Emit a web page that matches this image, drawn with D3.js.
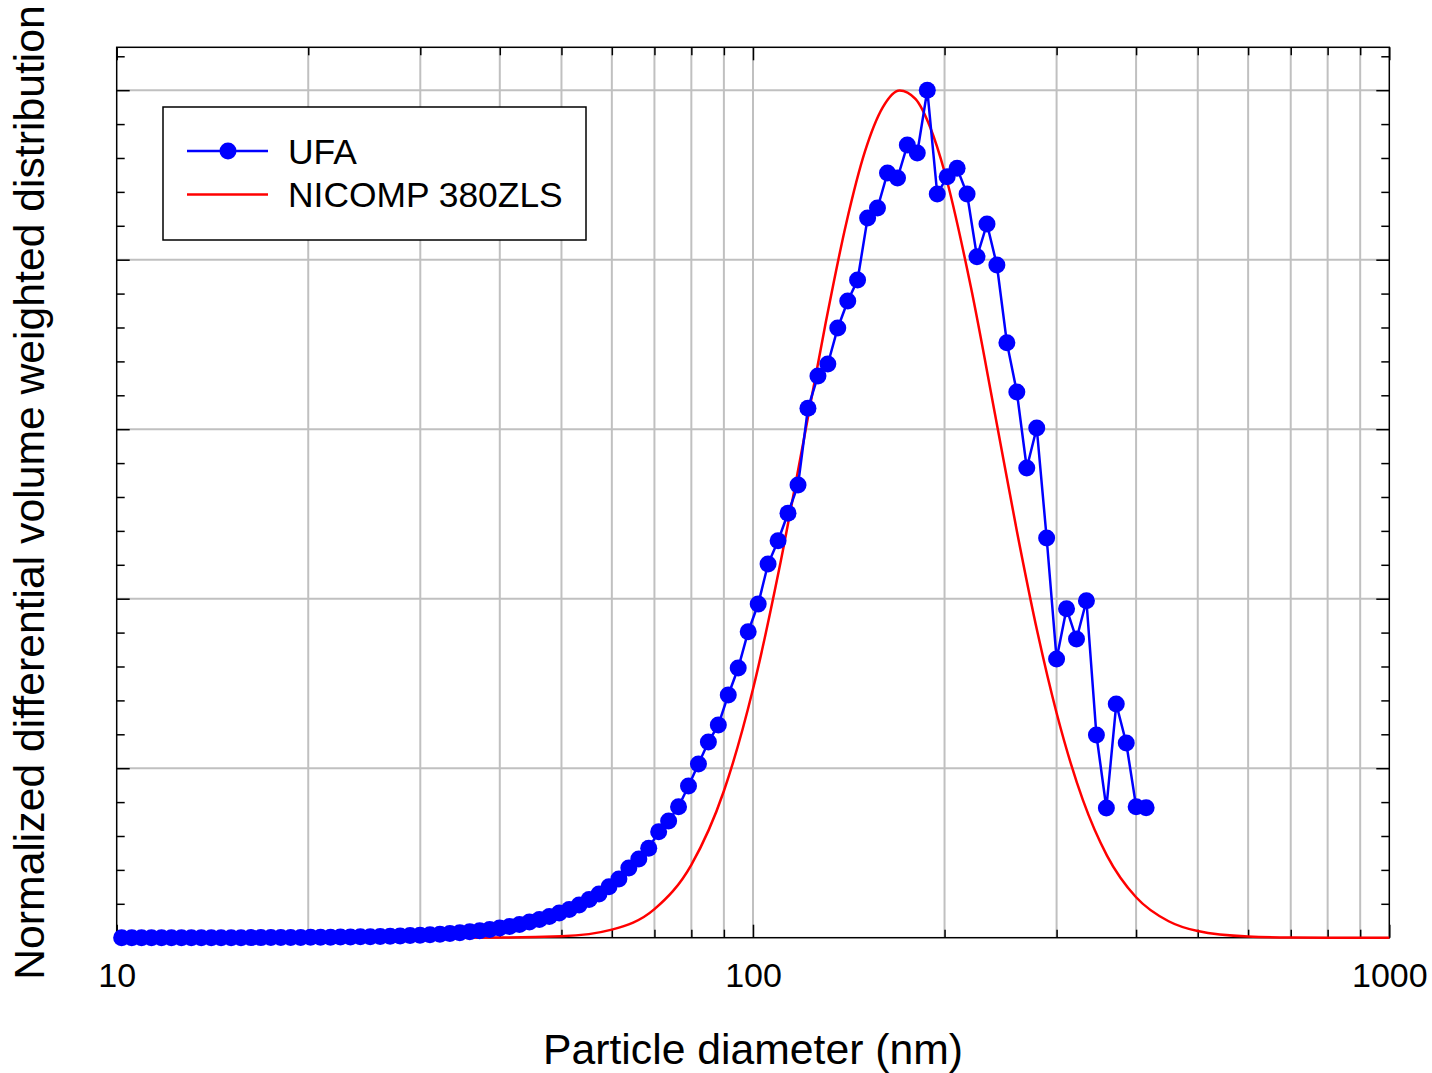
<!DOCTYPE html>
<html>
<head>
<meta charset="utf-8">
<script src="https://cdn.jsdelivr.net/npm/d3@7"></script>
<style>
  body { margin: 0; background: #fff; }
  text { font-family: "Liberation Sans", Arial, sans-serif; }
</style>
</head>
<body>
<div id="chart"></div>
<script>
// UFA channels (nm) and normalized values
const ufaDiameters = [
  10.18, 10.56, 10.94, 11.34, 11.76, 12.19, 12.64, 13.10, 13.58, 14.08,
  14.59, 15.13, 15.68, 16.26, 16.85, 17.47, 18.11, 18.77, 19.46, 20.17,
  20.91, 21.68, 22.47, 23.30, 24.15, 25.03, 25.95, 26.90, 27.89, 28.91,
  29.97, 31.07, 32.21, 33.39, 34.61, 35.88, 37.19, 38.56, 39.97, 41.43,
  42.95, 44.53, 46.16, 47.85, 49.60, 51.42, 53.30, 55.26, 57.28, 59.38,
  61.55, 63.81, 66.15, 68.57, 71.08, 73.69, 76.38, 79.18, 82.08, 85.09,
  88.21, 91.44, 94.79, 98.27, 101.9, 105.6, 109.5, 113.5, 117.7, 122.0,
  126.5, 131.1, 135.9, 140.9, 146.0, 151.4, 156.9, 162.7, 168.7, 174.8,
  181.2, 187.9, 194.8, 201.9, 209.3, 217.0, 224.9, 233.2, 241.7, 250.6,
  259.8, 269.3, 279.2, 289.4, 300.0, 311.0, 322.4, 334.2, 346.5, 359.2,
  372.3, 386.0, 400.1, 414.8
];
const ufaValues = [
  0, 0, 0, 0, 0, 0, 0, 0, 0, 0,
  0, 0, 0, 0.0001, 0.0001, 0.0002, 0.0002, 0.0003, 0.0003, 0.0004,
  0.0005, 0.0006, 0.0007, 0.0008, 0.0010, 0.0012, 0.0014, 0.0017, 0.0020, 0.0025,
  0.0030, 0.0035, 0.0042, 0.0050, 0.0058, 0.0069, 0.0081, 0.0097, 0.0114, 0.0132,
  0.0156, 0.0186, 0.0215, 0.0250, 0.0291, 0.0333, 0.0386, 0.0451, 0.0516, 0.0602,
  0.0693, 0.0822, 0.0929, 0.1055, 0.1251, 0.1377, 0.1546, 0.1790, 0.2050, 0.2309,
  0.2510, 0.2864, 0.3182, 0.3611, 0.3937, 0.4409, 0.4684, 0.5008, 0.5342, 0.6247,
  0.6628, 0.6769, 0.7194, 0.7513, 0.7760, 0.8492, 0.8610, 0.9023, 0.8964, 0.9353,
  0.9259, 1.0000, 0.8775, 0.8979, 0.9078, 0.8775, 0.8035, 0.8421, 0.7937, 0.7021,
  0.6439, 0.5542, 0.6014, 0.4716, 0.3289, 0.3882, 0.3524, 0.3976, 0.2392, 0.1530,
  0.2757, 0.2297, 0.1546, 0.1534
];

// NICOMP 380ZLS smooth distribution, sampled off the plot
const nicompDiameters = [10, 20, 30, 40, 50, 60, 70, 80, 90, 100, 110, 120, 130, 140, 150,
  160, 170, 180, 190, 200, 220, 240, 260, 280, 300, 330, 360, 400, 450, 500, 600, 700, 800, 1000];
const nicompValues = [0, 0, 0, 0.0001, 0.0016, 0.0095, 0.0337, 0.0860, 0.1731, 0.2934, 0.4358, 0.5850, 0.7243, 0.8416, 0.9280,
  0.9800, 0.9997, 0.9897, 0.9556, 0.9038, 0.7677, 0.6183, 0.4787, 0.3600, 0.2651, 0.1623, 0.0969, 0.0477, 0.0194, 0.0078, 0.0013, 0.0002, 0, 0];

const xTickLabels = [10, 100, 1000];
const seriesNames = ["UFA", "NICOMP 380ZLS"];
const seriesColors = ["#0000ff", "#ff0000"];

const width = 1432, height = 1073;
const plotLeft = 116.7, plotRight = 1389.3, plotTop = 47.3, plotBottom = 937.7;

const x = d3.scaleLog().domain([10, 1000]).range([plotLeft, plotRight]);
const y = d3.scaleLinear().domain([0, 1.0506]).range([plotBottom, plotTop]);

const svg = d3.select("#chart").append("svg")
    .attr("width", width)
    .attr("height", height);

// grid
const xGrid = x.ticks().filter(d => d > 10 && d < 1000);
const yGrid = [0.2, 0.4, 0.6, 0.8, 1.0];

svg.append("g").selectAll("line")
  .data(xGrid)
  .enter().append("line")
  .attr("x1", d => x(d)).attr("x2", d => x(d))
  .attr("y1", plotTop).attr("y2", plotBottom)
  .attr("stroke", "#c0c0c0")
  .attr("stroke-width", 2);

svg.append("g").selectAll("line")
  .data(yGrid)
  .enter().append("line")
  .attr("x1", plotLeft).attr("x2", plotRight)
  .attr("y1", d => y(d)).attr("y2", d => y(d))
  .attr("stroke", "#c0c0c0")
  .attr("stroke-width", 2);

// inward ticks on all four sides
const xMinor = x.ticks().filter(d => xTickLabels.indexOf(d) < 0);
const yMinor = d3.range(1, 27).map(i => i * 0.04).filter(d => notMajor(d));
function notMajor(d) { return Math.abs(d / 0.2 - Math.round(d / 0.2)) > 0.01; }
const yMajor = [0].concat(yGrid);

function tickStyle(g) {
  g.select(".domain").remove();
  g.selectAll(".tick line").attr("stroke", "#000").attr("stroke-width", 1.5);
}

svg.append("g").attr("transform", "translate(0," + plotBottom + ")")
  .call(d3.axisBottom(x).tickValues(xMinor).tickSize(-8).tickFormat(""))
  .call(tickStyle);
svg.append("g").attr("transform", "translate(0," + plotBottom + ")")
  .call(d3.axisBottom(x).tickValues(xTickLabels).tickSize(-13).tickPadding(25).tickFormat(d3.format("d")))
  .call(tickStyle)
  .call(g => g.selectAll("text").attr("font-size", 34).attr("fill", "#000")
    .attr("font-family", "'Liberation Sans', Arial, sans-serif"));
svg.append("g").attr("transform", "translate(0," + plotTop + ")")
  .call(d3.axisTop(x).tickValues(xMinor).tickSize(-8).tickFormat(""))
  .call(tickStyle);
svg.append("g").attr("transform", "translate(0," + plotTop + ")")
  .call(d3.axisTop(x).tickValues(xTickLabels).tickSize(-13).tickFormat(""))
  .call(tickStyle);

svg.append("g").attr("transform", "translate(" + plotLeft + ",0)")
  .call(d3.axisLeft(y).tickValues(yMinor).tickSize(-8).tickFormat(""))
  .call(tickStyle);
svg.append("g").attr("transform", "translate(" + plotLeft + ",0)")
  .call(d3.axisLeft(y).tickValues(yMajor).tickSize(-13).tickFormat(""))
  .call(tickStyle);
svg.append("g").attr("transform", "translate(" + plotRight + ",0)")
  .call(d3.axisRight(y).tickValues(yMinor).tickSize(-8).tickFormat(""))
  .call(tickStyle);
svg.append("g").attr("transform", "translate(" + plotRight + ",0)")
  .call(d3.axisRight(y).tickValues(yMajor).tickSize(-13).tickFormat(""))
  .call(tickStyle);

// frame
svg.append("rect")
  .attr("x", plotLeft).attr("y", plotTop)
  .attr("width", plotRight - plotLeft).attr("height", plotBottom - plotTop)
  .attr("fill", "none")
  .attr("stroke", "#000")
  .attr("stroke-width", 1.5);

// NICOMP curve
const nicomp = nicompDiameters.map((d, i) => ({ d: d, v: nicompValues[i] }));
svg.append("path")
  .datum(nicomp)
  .attr("fill", "none")
  .attr("stroke", seriesColors[1])
  .attr("stroke-width", 2.5)
  .attr("d", d3.line().x(p => x(p.d)).y(p => y(p.v)).curve(d3.curveMonotoneX));

// UFA line + markers
const ufa = ufaDiameters.map((d, i) => ({ d: d, v: ufaValues[i] }));
svg.append("path")
  .datum(ufa)
  .attr("fill", "none")
  .attr("stroke", seriesColors[0])
  .attr("stroke-width", 2.5)
  .attr("d", d3.line().x(p => x(p.d)).y(p => y(p.v)));

svg.append("g").selectAll("circle")
  .data(ufa)
  .enter().append("circle")
  .attr("cx", p => x(p.d))
  .attr("cy", p => y(p.v))
  .attr("r", 8.5)
  .attr("fill", seriesColors[0]);

// legend
const legend = svg.append("g");
legend.append("rect")
  .attr("x", 163).attr("y", 107)
  .attr("width", 423).attr("height", 133)
  .attr("fill", "#fff")
  .attr("stroke", "#000")
  .attr("stroke-width", 1.5);

const items = legend.selectAll(".item")
  .data(seriesNames)
  .enter().append("g")
  .attr("class", "item")
  .attr("transform", (d, i) => "translate(0," + (151 + i * 43.5) + ")");

items.append("line")
  .attr("x1", 187).attr("x2", 268)
  .attr("stroke", (d, i) => seriesColors[i])
  .attr("stroke-width", 2.5);
items.filter((d, i) => i === 0).append("circle")
  .attr("cx", 228).attr("r", 8.5)
  .attr("fill", seriesColors[0]);
items.append("text")
  .attr("x", 288).attr("y", 12.5)
  .attr("font-size", 35.4)
  .text(d => d);

// axis titles
svg.append("text")
  .attr("x", (plotLeft + plotRight) / 2)
  .attr("y", 1064)
  .attr("text-anchor", "middle")
  .attr("font-size", 42.7)
  .text("Particle diameter (nm)");

svg.append("text")
  .attr("transform", "translate(44," + ((plotTop + plotBottom) / 2) + ") rotate(-90)")
  .attr("text-anchor", "middle")
  .attr("font-size", 42.7)
  .text("Normalized differential volume weighted distribution");
</script>
</body>
</html>
